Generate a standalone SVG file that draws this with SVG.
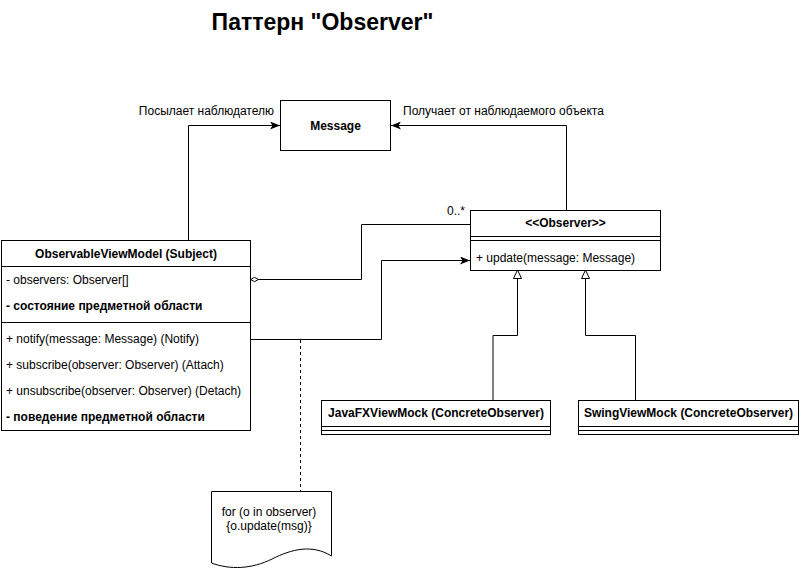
<svg xmlns="http://www.w3.org/2000/svg" width="801" height="571" viewBox="0 0 801 571">
<defs>
<style>
text{font-family:"Liberation Sans",Arial,sans-serif;font-size:12px;fill:#000}
.b{font-weight:bold}
.c{text-anchor:middle}
.box{fill:#fff;stroke:#000;stroke-width:1}
.ln{fill:none;stroke:#000;stroke-width:1}
</style>
<marker id="arr" viewBox="0 0 10 8" refX="10" refY="4" markerWidth="10" markerHeight="8" markerUnits="userSpaceOnUse" orient="auto">
<path d="M0,0 L10,4 L0,8 L2.5,4 Z" fill="#000" stroke="none"/>
</marker>
<marker id="tri" viewBox="0 0 10 10" refX="9.5" refY="5" markerWidth="10" markerHeight="10" markerUnits="userSpaceOnUse" orient="auto">
<path d="M1,1 L9.5,5 L1,9 Z" fill="#fff" stroke="#000" stroke-width="1"/>
</marker>
<marker id="dia" viewBox="0 0 10 6" refX="0.5" refY="3" markerWidth="10" markerHeight="6" markerUnits="userSpaceOnUse" orient="auto">
<path d="M0.5,3 L4.5,0.8 L8.5,3 L4.5,5.2 Z" fill="#fff" stroke="#000" stroke-width="1"/>
</marker>
</defs>
<rect width="801" height="571" fill="#fff"/>
<text class="b c" x="322.5" y="30" style="font-size:23px">Паттерн "Observer"</text>

<g id="connectors">
<polyline class="ln" points="188.5,240 188.5,125.5 280,125.5" marker-end="url(#arr)"/>
<polyline class="ln" points="566.5,210 566.5,125.5 391,125.5" marker-end="url(#arr)"/>
<polyline class="ln" points="250.5,279.5 361.5,279.5 361.5,224.5 470,224.5" marker-start="url(#dia)"/>
<polyline class="ln" points="250,339.5 381.5,339.5 381.5,260.5 470,260.5" marker-end="url(#arr)"/>
<polyline class="ln" points="493,400 493,335.5 517.5,335.5 517.5,270" marker-end="url(#tri)"/>
<polyline class="ln" points="635.5,400 635.5,335.5 585.5,335.5 585.5,270" marker-end="url(#tri)"/>
<line class="ln" x1="300.5" y1="340" x2="300.5" y2="491" stroke-dasharray="3,3"/>
<text x="274" y="115" style="text-anchor:end">Посылает наблюдателю</text>
<text x="403" y="115">Получает от наблюдаемого объекта</text>
<text x="465" y="215" style="text-anchor:end">0..*</text>
</g>

<g id="message">
<rect class="box" x="280.5" y="100.5" width="110" height="50"/>
<text class="b c" x="335.5" y="129.5">Message</text>
</g>

<g id="observer">
<rect class="box" x="470.5" y="210.5" width="190" height="60"/>
<line class="ln" x1="470.5" y1="236.5" x2="660.5" y2="236.5"/>
<line class="ln" x1="470.5" y1="240.5" x2="660.5" y2="240.5"/>
<text class="b c" x="565.5" y="227">&lt;&lt;Observer&gt;&gt;</text>
<text x="476" y="262">+ update(message: Message)</text>
</g>

<g id="subject">
<rect class="box" x="1.5" y="240.5" width="249" height="190"/>
<line class="ln" x1="1.5" y1="266.5" x2="250.5" y2="266.5"/>
<line class="ln" x1="1.5" y1="322.5" x2="250.5" y2="322.5"/>
<text class="b c" x="126" y="258">ObservableViewModel (Subject)</text>
<text x="6" y="284">- observers: Observer[]</text>
<text class="b" x="6" y="310">- состояние предметной области</text>
<text x="6" y="343">+ notify(message: Message) (Notify)</text>
<text x="6" y="369">+ subscribe(observer: Observer) (Attach)</text>
<text x="6" y="395">+ unsubscribe(observer: Observer) (Detach)</text>
<text class="b" x="6" y="421">- поведение предметной области</text>
</g>

<g id="javafx">
<rect class="box" x="321.5" y="400.5" width="229" height="34"/>
<line class="ln" x1="321.5" y1="426.5" x2="550.5" y2="426.5"/>
<line class="ln" x1="321.5" y1="430.5" x2="550.5" y2="430.5"/>
<text class="b c" x="436" y="417">JavaFXViewMock (ConcreteObserver)</text>
</g>

<g id="swing">
<rect class="box" x="578.5" y="400.5" width="220" height="34"/>
<line class="ln" x1="578.5" y1="426.5" x2="798.5" y2="426.5"/>
<line class="ln" x1="578.5" y1="430.5" x2="798.5" y2="430.5"/>
<text class="b c" x="688.5" y="417">SwingViewMock (ConcreteObserver)</text>
</g>

<g id="note">
<path class="box" d="M211.5,491.5 L331.5,491.5 L331.5,556 C312,544 292,549 272,559 C252,569 230,570 211.5,563 Z"/>
<text class="c" x="269" y="516">for (o in observer)</text>
<text class="c" x="269" y="530">{o.update(msg)}</text>
</g>
</svg>
